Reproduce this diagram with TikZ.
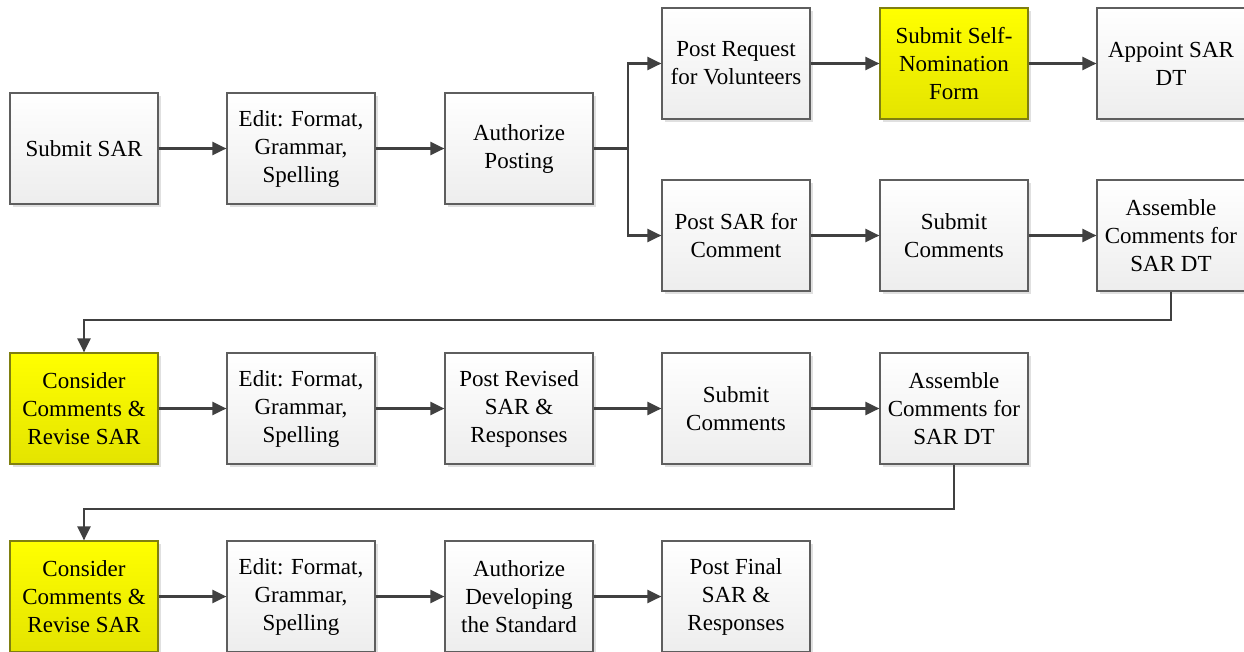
\documentclass[tikz,border=0pt]{standalone}
\usepackage{fontspec}
\setmainfont{Liberation Serif}
\usetikzlibrary{arrows.meta,shadows}
\definecolor{linegray}{HTML}{404040}
\definecolor{boxedge}{HTML}{5E5E5E}
\definecolor{yeledge}{HTML}{7F7F10}
\begin{document}
\begin{tikzpicture}[x=1pt,y=-1pt,
  box/.style={draw=boxedge, line width=1.2pt, minimum width=148pt, minimum height=111pt,
    inner sep=0pt, align=center, font=\fontsize{23}{28}\selectfont,
    top color=white, bottom color=black!7,
    drop shadow={shadow xshift=3pt, shadow yshift=-3pt, fill=black!12, opacity=1}},
  ybox/.style={box, draw=yeledge, top color=yellow, bottom color={rgb,255:red,228;green,228;blue,0}},
  flow/.style={draw=linegray, line width=2.2pt, -{Triangle[length=14pt,width=13pt]}},
  plain/.style={draw=linegray, line width=2.2pt}]
\useasboundingbox (0,0) rectangle (1244,651);

% first block
\node[box]  (sub)  at (84,148.5)  {Submit SAR};
\node[box]  (ed1)  at (301,148.5) {Edit: Format,\\Grammar,\\Spelling};
\node[box]  (aup)  at (519,148.5) {Authorize\\Posting};
\node[box]  (prv)  at (736,63.5)  {Post Request\\for Volunteers};
\node[ybox] (ssn)  at (954,63.5)  {Submit Self-\\Nomination\\Form};
\node[box]  (app)  at (1171,63.5) {Appoint SAR\\DT};
\node[box]  (psc)  at (736,235.5) {Post SAR for\\Comment};
\node[box]  (sc1)  at (954,235.5) {Submit\\Comments};
\node[box]  (as1)  at (1171,235.5){Assemble\\Comments for\\SAR DT};

% second row
\node[ybox] (cr1)  at (84,408.5)  {Consider\\Comments \&\\Revise SAR};
\node[box]  (ed2)  at (301,408.5) {Edit: Format,\\Grammar,\\Spelling};
\node[box]  (prs)  at (519,408.5) {Post Revised\\SAR \&\\Responses};
\node[box]  (sc2)  at (736,408.5) {Submit\\Comments};
\node[box]  (as2)  at (954,408.5) {Assemble\\Comments for\\SAR DT};

% third row
\node[ybox] (cr2)  at (84,596.5)  {Consider\\Comments \&\\Revise SAR};
\node[box]  (ed3)  at (301,596.5) {Edit: Format,\\Grammar,\\Spelling};
\node[box]  (ads)  at (519,596.5) {Authorize\\Developing\\the Standard};
\node[box]  (pfr)  at (736,596.5) {Post Final\\SAR \&\\Responses};

% connectors
\draw[flow] (sub) -- (ed1);
\draw[flow] (ed1) -- (aup);
\draw[plain] (aup.east) -- ++(34,0) coordinate (fork);
\draw[flow] (fork) |- (prv.west);
\draw[flow] (fork) |- (psc.west);
\draw[flow] (prv) -- (ssn);
\draw[flow] (ssn) -- (app);
\draw[flow] (psc) -- (sc1);
\draw[flow] (sc1) -- (as1);
\draw[flow] (as1.south) -- ++(0,28) -| (cr1.north);

\draw[flow] (cr1) -- (ed2);
\draw[flow] (ed2) -- (prs);
\draw[flow] (prs) -- (sc2);
\draw[flow] (sc2) -- (as2);
\draw[flow] (as2.south) -- ++(0,44) -| (cr2.north);

\draw[flow] (cr2) -- (ed3);
\draw[flow] (ed3) -- (ads);
\draw[flow] (ads) -- (pfr);
\end{tikzpicture}
\end{document}
